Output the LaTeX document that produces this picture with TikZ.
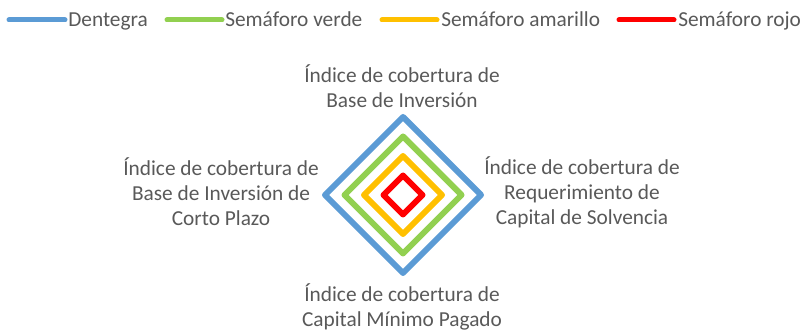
\documentclass[tikz,border=0pt]{standalone}
\usepackage{fontspec}
\setmainfont{Carlito}
\definecolor{cblue}{HTML}{5B9BD5}
\definecolor{cgreen}{HTML}{92D050}
\definecolor{cyellow}{HTML}{FFC000}
\definecolor{cred}{HTML}{FF0000}
\definecolor{ctext}{HTML}{595959}
\tikzset{
  lbl/.style={font=\fontsize{16}{18.7}\selectfont, text=ctext, align=center, inner sep=0pt},
  ring/.style={line width=4.5pt, line join=round},
  legline/.style={line width=3.75pt, line cap=round},
}
\begin{document}
\begin{tikzpicture}[x=0.75pt,y=-0.75pt]
\useasboundingbox (0,0) rectangle (803,331);
% center
\coordinate (c) at (403,195);
% diamonds
\foreach \r/\col in {78/cblue,58.5/cgreen,39/cyellow,19.5/cred}{
  \draw[ring,\col] ([yshift=-\r*0.75pt]c) -- ([xshift=\r*0.75pt]c) -- ([yshift=\r*0.75pt]c) -- ([xshift=-\r*0.75pt]c) -- cycle;
}
% labels
\node[lbl] (top) at (402,86) {Índice de cobertura de\\Base de Inversión};
\node[lbl] (right) at (582,192) {Índice de cobertura de\\Requerimiento de\\Capital de Solvencia};
\node[lbl] (bottom) at (402,307) {Índice de cobertura de\\Capital Mínimo Pagado};
\node[lbl] (left) at (221,192) {Índice de cobertura de\\Base de Inversión de\\Corto Plazo};
% legend
\coordinate (l1a) at (9,20);   \coordinate (l1b) at (65,20);
\coordinate (l2a) at (167,20); \coordinate (l2b) at (222,20);
\coordinate (l3a) at (382,20); \coordinate (l3b) at (437,20);
\coordinate (l4a) at (619,20); \coordinate (l4b) at (674,20);
\draw[legline,cblue] (l1a) -- (l1b);
\draw[legline,cgreen] (l2a) -- (l2b);
\draw[legline,cyellow] (l3a) -- (l3b);
\draw[legline,cred] (l4a) -- (l4b);
\node[lbl,anchor=base west] (t1) at (68,27) {Dentegra};
\node[lbl,anchor=base west] (t2) at (225,27) {Semáforo verde};
\node[lbl,anchor=base west] (t3) at (441,27) {Semáforo amarillo};
\node[lbl,anchor=base west] (t4) at (678,27) {Semáforo rojo};
\end{tikzpicture}
\end{document}
